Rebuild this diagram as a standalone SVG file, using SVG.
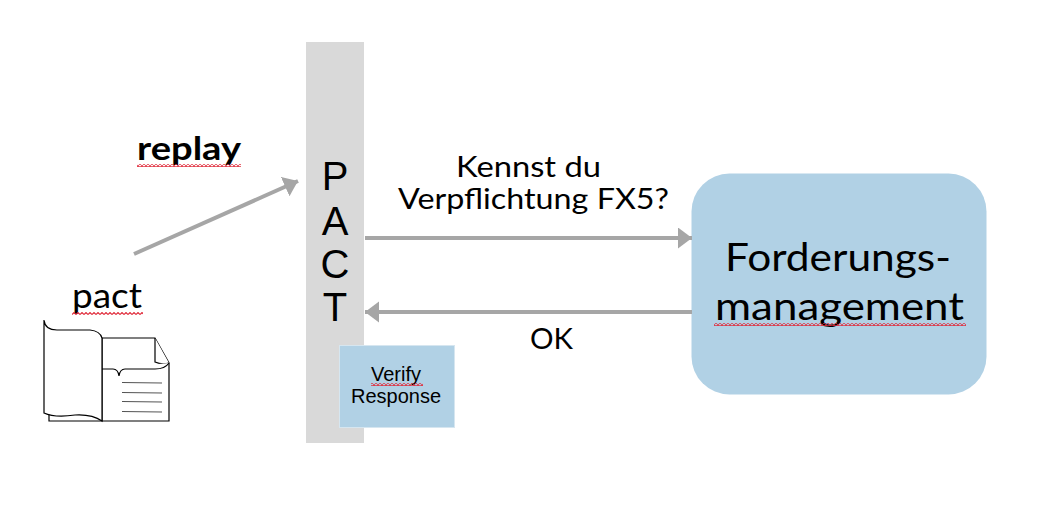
<svg xmlns="http://www.w3.org/2000/svg" width="1037" height="505" viewBox="0 0 1037 505">
<style>
.t{font-family:Lato,"Noto Sans","Liberation Sans",sans-serif;fill:#000}
.a{font-family:"Liberation Sans",Arial,sans-serif;fill:#000;text-anchor:middle}
.c{fill:none;stroke:#a6a6a6;stroke-width:4}
.d{fill:#fff;stroke:#000;stroke-width:1.2}
.l{fill:none;stroke:#555;stroke-width:1.2}
</style>
<defs>
<marker id="ah" markerUnits="userSpaceOnUse" markerWidth="15" markerHeight="22" refX="14" refY="10.500" orient="auto"><path d="M0 0L14 10.500L0 21Z" fill="#a6a6a6"/></marker>
<pattern id="wave" patternUnits="userSpaceOnUse" width="4" height="3"><path d="M0 2.500L2 0.500L4 2.500" fill="none" stroke="#e02a3a" stroke-width="1.1"/></pattern>
</defs>
<rect width="1037" height="505" fill="#fff"/>
<g id="pact-bar">
<rect x="306" y="42" width="58" height="401" fill="#d9d9d9"/>
<text class="a" font-size="40" x="335" y="190">P</text>
<text class="a" font-size="40" x="335" y="235">A</text>
<text class="a" font-size="40" x="335" y="278">C</text>
<text class="a" font-size="40" x="335" y="321">T</text>
</g>
<g id="verify-response">
<rect x="339.500" y="345.500" width="115" height="82" fill="#b1d1e5" stroke="#d6e6f0"/>
<text class="a" font-size="20" x="396" y="381">Verify</text>
<text class="a" font-size="20" x="396" y="403">Response</text>
<rect x="371" y="383" width="52" height="3" fill="url(#wave)"/>
</g>
<g id="forderungsmanagement">
<rect x="691.500" y="173.500" width="295" height="221" rx="38" fill="#b1d1e5"/>
<text class="t" font-size="39" x="725" y="271" textLength="226" lengthAdjust="spacingAndGlyphs">Forderungs-</text>
<text class="t" font-size="39" x="715" y="320" textLength="249" lengthAdjust="spacingAndGlyphs">management</text>
<rect x="714" y="323" width="252" height="3" fill="url(#wave)"/>
</g>
<g id="connectors">
<path class="c" d="M134 254L298 181" marker-end="url(#ah)"/>
<path class="c" d="M365 238H692" marker-end="url(#ah)"/>
<path class="c" d="M692 312H365" marker-end="url(#ah)"/>
</g>
<g id="labels">
<text class="t" font-size="33" font-weight="700" x="137" y="160" textLength="104" lengthAdjust="spacingAndGlyphs">replay</text>
<rect x="137" y="164" width="104" height="3" fill="url(#wave)"/>
<text class="t" font-size="28" x="456" y="177" textLength="145" lengthAdjust="spacingAndGlyphs">Kennst du</text>
<text class="t" font-size="28" x="398" y="209" textLength="271" lengthAdjust="spacingAndGlyphs">Verpflichtung FX5?</text>
<text class="t" font-size="29" x="530" y="349" textLength="43" lengthAdjust="spacingAndGlyphs">OK</text>
<text class="t" font-size="34" x="72" y="308" textLength="70" lengthAdjust="spacingAndGlyphs">pact</text>
<rect x="72" y="312" width="71" height="3" fill="url(#wave)"/>
</g>
<g id="document">
<path class="d" d="M49 414V421H169V363L155 338H102V421"/>
<path class="d" d="M155 338V362Q162 365 169 363"/>
<path class="d" d="M102 369H113Q118 369 119 376Q120 369 125 369H155Q165 369 169 363"/>
<path class="d" d="M44 320Q45 330 57 330H90Q100 331 102 338V421Q92 414 75 415Q55 418 44 413Z"/>
<path class="l" d="M122 382.500L162 383M122 392.500L162 393M122 401.500L162 402M122 411.500L162 412"/>
</g>
</svg>
